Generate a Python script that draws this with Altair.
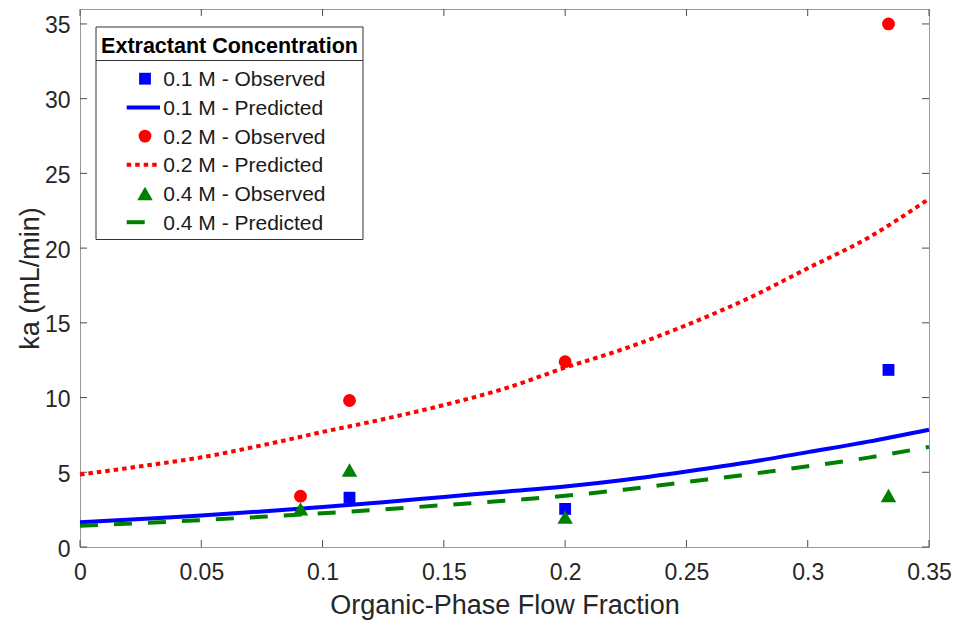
import altair as alt
import pandas as pd

# ---------------- data ----------------
x_ticks = [0, 0.05, 0.1, 0.15, 0.2, 0.25, 0.3, 0.35]
y_ticks = [0, 5, 10, 15, 20, 25, 30, 35]

obs_x_01 = [0.1111, 0.2, 0.3333]
obs_y_01 = [3.30, 2.55, 11.85]
obs_x_02 = [0.0909, 0.1111, 0.2, 0.3333]
obs_y_02 = [3.40, 9.80, 12.40, 35.0]
obs_x_04 = [0.0909, 0.1111, 0.2, 0.3333]
obs_y_04 = [2.55, 5.15, 2.00, 3.45]

pred_x = [0, 0.025, 0.05, 0.075, 0.1, 0.125, 0.15, 0.175, 0.2, 0.225, 0.25, 0.275, 0.3, 0.325, 0.35]
pred_y_01 = [1.65, 1.87, 2.10, 2.38, 2.68, 3.00, 3.35, 3.70, 4.05, 4.50, 5.05, 5.65, 6.35, 7.05, 7.85]
pred_y_02 = [4.85, 5.40, 6.00, 6.80, 7.70, 8.55, 9.50, 10.60, 12.00, 13.30, 14.85, 16.60, 18.65, 20.70, 23.30]
pred_y_04 = [1.42, 1.60, 1.80, 2.02, 2.26, 2.52, 2.80, 3.10, 3.43, 3.85, 4.35, 4.85, 5.40, 5.98, 6.70]

series = ["0.1 M", "0.2 M", "0.4 M"]
colors = ["#0000ff", "#ff0000", "#008000"]
shapes = ["square", "circle", "triangle-up"]
marker_sizes = [140, 165, 240]
dashes = [None, [4.5, 4], [18, 16]]
obs_x = [obs_x_01, obs_x_02, obs_x_04]
obs_y = [obs_y_01, obs_y_02, obs_y_04]
pred_y = [pred_y_01, pred_y_02, pred_y_04]

legend_title = "Extractant Concentration"
FONT = "Liberation Sans"
W, H = 849, 538

xs = alt.Scale(domain=[0, 0.35], nice=False, zero=False)
ys = alt.Scale(domain=[0, 36], nice=False, zero=False)

x_axis = alt.Axis(title="Organic-Phase Flow Fraction", values=x_ticks, format=".2~f",
                  labelPadding=14, labelFlush=False, titleX=W / 2, titleY=66.5,
                  titleBaseline="alphabetic")
y_axis = alt.Axis(title="ka (mL/min)", values=y_ticks, labelPadding=10, labelOffset=2,
                  labelFlush=False,
                  titleX=-50, titleY=H / 2, titleAngle=-90, titleBaseline="middle",
                  titleAlign="center")


def X():
    return alt.X("x:Q", scale=xs, axis=x_axis, title="Organic-Phase Flow Fraction")


def Y():
    return alt.Y("y:Q", scale=ys, axis=y_axis, title="ka (mL/min)")


layers = []

# inward ticks on all four sides
xt = pd.DataFrame({"x": x_ticks})
yt = pd.DataFrame({"y": y_ticks})
tick_color = "#4d4d4d"
layers.append(alt.Chart(xt).mark_rule(color=tick_color, strokeWidth=1).encode(
    x=X(), y=alt.value(H), y2=alt.value(H - 7)))
layers.append(alt.Chart(xt).mark_rule(color=tick_color, strokeWidth=1).encode(
    x=X(), y=alt.value(0), y2=alt.value(7)))
layers.append(alt.Chart(yt).mark_rule(color=tick_color, strokeWidth=1).encode(
    y=Y(), x=alt.value(0), x2=alt.value(7)))
layers.append(alt.Chart(yt).mark_rule(color=tick_color, strokeWidth=1).encode(
    y=Y(), x=alt.value(W), x2=alt.value(W - 7)))

# data series (MATLAB draw order: observed then predicted for each concentration)
for i in range(3):
    od = pd.DataFrame({"x": obs_x[i], "y": obs_y[i]})
    layers.append(alt.Chart(od).mark_point(shape=shapes[i], filled=True, opacity=1,
                                           size=marker_sizes[i], color=colors[i]).encode(
        x=X(), y=Y()))
    pdf = pd.DataFrame({"x": pred_x, "y": pred_y[i]})
    lkw = dict(color=colors[i], strokeWidth=4, interpolate="monotone")
    if dashes[i] is not None:
        lkw["strokeDash"] = dashes[i]
    layers.append(alt.Chart(pdf).mark_line(**lkw).encode(x=X(), y=Y()))

# legend box
one = pd.DataFrame({"a": [0]})
bx0, bx1, by0, by1 = 16, 283, 18, 230.5
layers.append(alt.Chart(one).mark_rect(fill="white", stroke="#333333", strokeWidth=1).encode(
    x=alt.value(bx0), x2=alt.value(bx1), y=alt.value(by0), y2=alt.value(by1)))
layers.append(alt.Chart(one).mark_rule(color="#333333", strokeWidth=1).encode(
    x=alt.value(bx0), x2=alt.value(bx1), y=alt.value(51.5)))
layers.append(alt.Chart(one).mark_text(text=legend_title, font=FONT, fontSize=21.5,
                                       fontWeight="bold", align="center",
                                       baseline="alphabetic", color="black").encode(
    x=alt.value((bx0 + bx1) / 2), y=alt.value(43.8)))

row = 0
for i in range(3):
    for kind in ["Observed", "Predicted"]:
        yc = 69.7 + 28.7 * row
        if kind == "Observed":
            layers.append(alt.Chart(one).mark_point(shape=shapes[i], filled=True, opacity=1,
                                                    size=marker_sizes[i], color=colors[i]).encode(
                x=alt.value(65), y=alt.value(yc)))
        else:
            rkw = dict(color=colors[i], strokeWidth=4)
            if dashes[i] is not None:
                rkw["strokeDash"] = dashes[i]
            layers.append(alt.Chart(one).mark_rule(**rkw).encode(
                x=alt.value(46.7), x2=alt.value(80), y=alt.value(yc)))
        layers.append(alt.Chart(one).mark_text(text=f"{series[i]} - {kind}", font=FONT,
                                               fontSize=21, align="left",
                                               baseline="alphabetic", color="#1a1a1a").encode(
            x=alt.value(83.3), y=alt.value(77.2 + 28.7 * row)))
        row += 1

chart = alt.layer(*layers).properties(
    width=W, height=H,
    padding={"left": 80, "top": 9, "right": 29, "bottom": 73},
    autosize=alt.AutoSizeParams(type="none"),
).configure_view(
    stroke="#9a9a9a", strokeWidth=1
).configure_axis(
    grid=False, ticks=False, domain=False,
    labelFont=FONT, labelFontSize=23, labelColor="#262626",
    titleFont=FONT, titleFontSize=27, titleColor="#262626", titleFontWeight="normal",
)

chart.save("out.html", embed_options={"renderer": "svg", "actions": False})
